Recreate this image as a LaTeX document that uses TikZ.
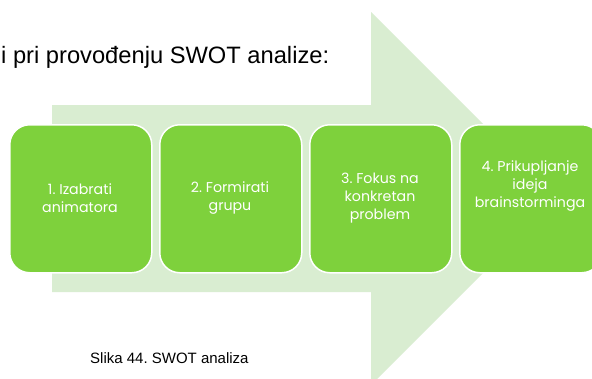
\documentclass[tikz,border=0pt]{standalone}
\usepackage{fontspec}
\setmainfont{Liberation Sans}
\newfontfamily\boxfont{Poppins}
\definecolor{boxgreen}{RGB}{126,209,60}
\definecolor{arrowgreen}{RGB}{217,237,209}
\frenchspacing
\begin{document}
\begin{tikzpicture}[x=1pt,y=-1pt,
  stepbox/.style={rectangle, rounded corners=20pt, fill=boxgreen, draw=white, line width=1.5pt,
    minimum width=142pt, minimum height=148pt, inner sep=0pt, anchor=north west},
  boxtext/.style={text=white, font=\boxfont\fontsize{14.2}{18}\selectfont, align=center, inner sep=0pt},
  plain/.style={inner sep=0pt, anchor=base west, text=black}]
\useasboundingbox (0,0) rectangle (592,378);
\clip (0,0) rectangle (592,378);
\fill[white] (0,0) rectangle (592,378);
% big arrow
\fill[arrowgreen] (52,105) -- (371,105) -- (371,12) -- (557.5,198.5) -- (371,385) -- (371,292) -- (52,292) -- cycle;
% title and caption
\node[plain, font=\fontsize{23.7}{28}\selectfont] (title) at (1,63) {i pri provođenju SWOT analize:};
\node[plain, font=\fontsize{15}{18}\selectfont] (caption) at (90,363) {Slika 44. SWOT analiza};
% boxes
\node[stepbox] (b1) at (9,124) {};
\node[stepbox] (b2) at (159,124) {};
\node[stepbox] (b3) at (309,124) {};
\node[stepbox] (b4) at (459,124) {};
\node[boxtext] (t1) at (80,198) {1. Izabrati\\animatora};
\node[boxtext] (t2) at (230,198) {2. Formirati\\grupu};
\node[boxtext] (t3) at (380,198) {3. Fokus na\\konkretan\\problem};
\node[boxtext] (t4) at (530,186) {4. Prikupljanje\\ideja\\brainstorminga};
\end{tikzpicture}
\end{document}
